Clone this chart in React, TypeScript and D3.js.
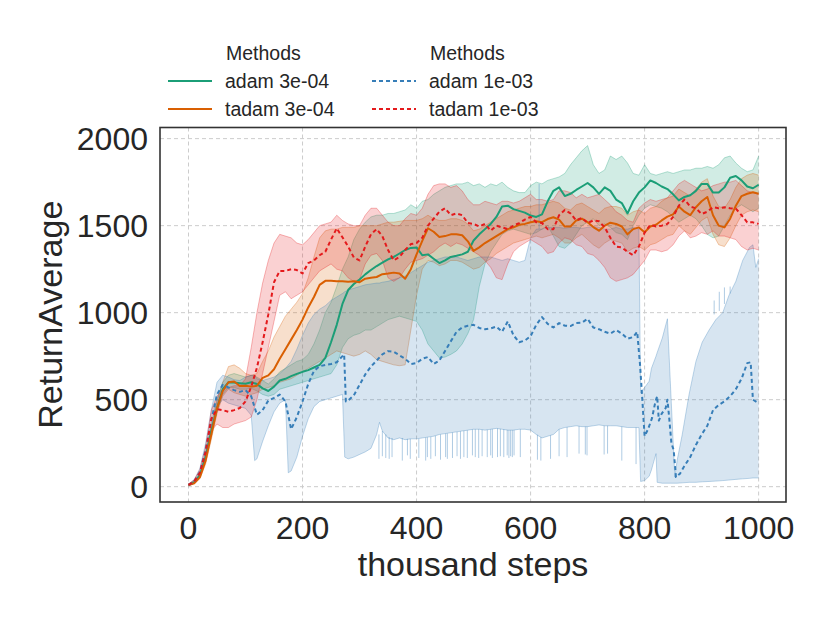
import React, { useEffect, useRef } from 'react';
import * as d3 from 'd3';

// shared x grid (thousand steps) for the 3e-04 runs and tadam 1e-03
const steps = [
  0, 10, 20, 30, 40, 50, 60, 70, 80, 90,
  100, 110, 120, 130, 140, 150, 160, 170, 180, 190,
  200, 210, 220, 230, 240, 250, 260, 270, 280, 290,
  300, 310, 320, 330, 340, 350, 360, 370, 380, 390,
  400, 410, 420, 430, 440, 450, 460, 470, 480, 490,
  500, 510, 520, 530, 540, 550, 560, 570, 580, 590,
  600, 610, 620, 630, 640, 650, 660, 670, 680, 690,
  700, 710, 720, 730, 740, 750, 760, 770, 780, 790,
  800, 810, 820, 830, 840, 850, 860, 870, 880, 890,
  900, 910, 920, 930, 940, 950, 960, 970, 980, 990,
  1000,
];

// adam 3e-04
const greenMean = [
  10, 25, 65, 170, 320, 450, 560, 600, 598, 595,
  592, 600, 590, 565, 550, 575, 610, 620, 635, 648,
  660, 670, 685, 700, 740, 830, 930, 1050, 1130, 1165,
  1190, 1220, 1245, 1268, 1288, 1306, 1320, 1340, 1360, 1372,
  1375, 1330, 1335, 1310, 1285, 1300, 1320, 1327, 1335, 1350,
  1415, 1450, 1480, 1510, 1550, 1610, 1615, 1595, 1585, 1575,
  1558, 1550, 1565, 1640, 1700, 1720, 1670, 1683, 1705, 1725,
  1745, 1720, 1683, 1720, 1700, 1650, 1630, 1570, 1640, 1690,
  1720, 1760, 1745, 1725, 1710, 1680, 1645, 1665, 1675, 1700,
  1740, 1740, 1690, 1690, 1720, 1775, 1785, 1760, 1725, 1715,
  1735,
];
const greenLo = [
  5, 20, 55, 150, 290, 430, 530, 570, 570, 560,
  560, 565, 550, 530, 520, 530, 560, 570, 580, 590,
  600, 610, 620, 630, 640, 650, 700, 800, 850, 870,
  880, 900, 900, 920, 940, 960, 970, 980, 970, 960,
  950, 900, 820, 780, 740, 745, 760, 780, 820, 880,
  960, 1150, 1280, 1350, 1400, 1450, 1470, 1480, 1470, 1460,
  1450, 1460, 1480, 1500, 1440, 1380, 1370, 1400, 1450, 1500,
  1520, 1540, 1500, 1510, 1490, 1460, 1450, 1420, 1500, 1560,
  1600, 1620, 1610, 1600, 1580, 1550, 1520, 1540, 1560, 1540,
  1500, 1450, 1430, 1440, 1500, 1560, 1600, 1620, 1600, 1580,
  1600,
];
const greenHi = [
  15, 35, 80, 200, 360, 500, 600, 640, 650, 640,
  630, 640, 630, 610, 590, 620, 660, 680, 700, 720,
  730, 760, 820, 900, 1000, 1060, 1150, 1250, 1320, 1420,
  1480, 1520, 1550, 1560, 1560, 1570, 1570, 1580, 1590, 1620,
  1600, 1640, 1650, 1680, 1700, 1720, 1730, 1740, 1740, 1750,
  1730, 1740, 1720, 1740, 1730, 1750, 1720, 1700, 1690, 1690,
  1730, 1750, 1740, 1760, 1770, 1780, 1800, 1850, 1890, 1930,
  1960, 1850, 1800, 1820, 1900, 1880, 1900, 1860, 1800, 1790,
  1850, 1800, 1790, 1800, 1810, 1800, 1810, 1820, 1820, 1830,
  1830, 1840, 1830, 1850, 1890, 1900, 1860, 1830, 1810, 1820,
  1900,
];

// tadam 3e-04
const orangeMean = [
  10, 20, 55, 150, 300, 450, 550, 600, 605, 578,
  580, 575, 580, 625, 640, 675, 735, 790, 845, 900,
  960, 1030, 1090, 1160, 1183, 1183, 1180, 1180, 1178, 1180,
  1175, 1195, 1200, 1205, 1221, 1225, 1230, 1225, 1195, 1250,
  1335, 1413, 1485, 1465, 1435, 1440, 1450, 1450, 1445, 1410,
  1355, 1375, 1400, 1420, 1440, 1460, 1480, 1490, 1505, 1510,
  1520, 1525, 1520, 1538, 1548, 1535, 1495, 1495, 1530, 1540,
  1520, 1492, 1471, 1500, 1517, 1510, 1495, 1450, 1480, 1490,
  1462, 1495, 1505, 1530, 1552, 1565, 1610, 1580, 1560, 1606,
  1640, 1665, 1560, 1500, 1490, 1540, 1615, 1670, 1683, 1692,
  1683,
];
const orangeLo = [
  5, 18, 45, 130, 270, 420, 520, 560, 540, 530,
  520, 530, 540, 560, 570, 580, 600, 610, 620, 640,
  660, 680, 700, 720, 740, 760, 780, 770, 760, 750,
  760, 780, 760, 730, 720, 710, 700, 695, 700, 900,
  1100, 1250, 1300, 1290, 1270, 1280, 1300, 1300, 1290, 1270,
  1250, 1260, 1290, 1310, 1340, 1360, 1380, 1400, 1410, 1420,
  1430, 1440, 1430, 1440, 1450, 1430, 1400, 1400, 1430, 1450,
  1420, 1390, 1370, 1400, 1420, 1410, 1400, 1350, 1370, 1380,
  1360, 1390, 1400, 1420, 1440, 1450, 1500, 1470, 1450, 1490,
  1530, 1550, 1450, 1390, 1380, 1430, 1500, 1560, 1580, 1590,
  1580,
];
const orangeHi = [
  15, 30, 70, 180, 340, 490, 600, 690, 700, 680,
  650, 640, 650, 720, 780, 860, 920, 980, 1020, 1060,
  1110, 1200, 1320, 1430, 1470, 1480, 1480, 1490, 1490, 1490,
  1500, 1500, 1500, 1500, 1510, 1520, 1520, 1525, 1530, 1530,
  1530, 1540, 1560, 1540, 1530, 1530, 1540, 1540, 1530, 1510,
  1470, 1480, 1500, 1520, 1540, 1560, 1580, 1590, 1600, 1610,
  1610, 1620, 1620, 1630, 1640, 1630, 1600, 1590, 1620, 1630,
  1610, 1590, 1570, 1600, 1610, 1610, 1600, 1560, 1580, 1590,
  1570, 1600, 1610, 1640, 1660, 1670, 1710, 1690, 1670, 1710,
  1750, 1770, 1670, 1610, 1600, 1650, 1720, 1770, 1790, 1800,
  1790,
];

// tadam 1e-03
const redMean = [
  10, 30, 80, 200, 390, 445, 440, 430, 440, 452,
  490, 575, 683, 830, 990, 1175, 1240, 1240, 1250, 1245,
  1225, 1285, 1300, 1330, 1350, 1420, 1485, 1433, 1380, 1317,
  1300, 1380, 1450, 1480, 1440, 1360, 1300, 1320, 1360, 1394,
  1400, 1430, 1500, 1540, 1580, 1600, 1560, 1570, 1560, 1515,
  1510, 1495, 1510, 1471, 1500, 1490, 1480, 1500, 1515, 1535,
  1550, 1520, 1515, 1480, 1480, 1560, 1590, 1570, 1530, 1545,
  1515, 1530, 1525, 1490, 1430, 1380, 1375, 1350, 1330, 1380,
  1460, 1505, 1495, 1500, 1510, 1550, 1615, 1650, 1610, 1600,
  1567, 1580, 1606, 1600, 1606, 1600, 1598, 1560, 1519, 1519,
  1510,
];
const redLo = [
  5, 20, 60, 170, 320, 360, 340, 340, 360, 370,
  380, 400, 500, 650, 800, 950, 1100, 1120, 1080, 1100,
  1120, 1160, 1200, 1240, 1260, 1280, 1250, 1240, 1200, 1180,
  1190, 1280, 1330, 1340, 1300, 1200, 1180, 1200, 1250, 1290,
  1300, 1310, 1330, 1350, 1380, 1400, 1380, 1400, 1390, 1370,
  1350, 1330, 1300, 1260, 1200, 1190, 1280, 1350, 1380, 1400,
  1420, 1400, 1380, 1340, 1350, 1400, 1430, 1420, 1390, 1380,
  1340, 1330, 1300, 1260, 1200, 1180, 1190, 1200, 1220, 1260,
  1300, 1360, 1360, 1350, 1360, 1390, 1440, 1470, 1430, 1440,
  1460, 1450, 1470, 1440, 1440, 1430, 1420, 1380, 1360, 1370,
  1360,
];
const redHi = [
  15, 40, 100, 230, 440, 520, 560, 570, 580, 580,
  620, 800, 1000, 1170, 1300, 1400, 1450, 1440, 1430, 1400,
  1390, 1420, 1460, 1500, 1510, 1520, 1560, 1530, 1510, 1500,
  1500, 1560, 1600, 1600, 1560, 1520, 1500, 1500, 1540, 1570,
  1560, 1600, 1680, 1730, 1740, 1740, 1720, 1730, 1700, 1650,
  1620, 1620, 1640, 1630, 1620, 1640, 1640, 1630, 1640, 1660,
  1680, 1650, 1650, 1640, 1650, 1700, 1700, 1690, 1660, 1680,
  1660, 1670, 1680, 1650, 1620, 1580, 1560, 1530, 1520, 1600,
  1630, 1650, 1640, 1650, 1660, 1700, 1740, 1760, 1740, 1720,
  1700, 1710, 1730, 1740, 1750, 1750, 1760, 1730, 1700, 1690,
  1680,
];

// adam 1e-03 has sharp collapses, so it keeps its own step positions
const blueMean: [number, number][] = [
  [0, 10], [10, 30], [20, 85], [30, 210], [40, 380], [50, 530], [60, 585], [70, 570], [80, 555], [90, 545],
  [100, 555], [110, 520], [120, 413], [130, 440], [140, 495], [150, 510], [160, 529], [170, 490], [180, 330], [190, 400],
  [200, 490], [210, 590], [220, 665], [230, 692], [240, 700], [250, 705], [260, 715], [270, 750], [273, 760], [276, 490],
  [280, 495], [290, 525], [300, 585], [310, 645], [320, 690], [330, 725], [340, 760], [350, 779], [360, 775], [370, 755],
  [380, 735], [390, 705], [400, 710], [410, 735], [420, 745], [430, 705], [440, 725], [450, 780], [460, 835], [470, 890],
  [480, 915], [490, 925], [500, 930], [510, 912], [520, 905], [530, 910], [540, 920], [550, 890], [560, 950], [570, 870],
  [580, 830], [590, 840], [600, 865], [610, 930], [620, 975], [630, 935], [640, 915], [650, 940], [660, 925], [670, 923],
  [680, 940], [690, 942], [700, 965], [710, 915], [720, 905], [730, 890], [740, 880], [750, 900], [760, 880], [770, 850],
  [780, 860], [787, 890], [792, 700], [796, 500], [800, 290], [806, 330], [813, 394], [819, 490], [822, 520], [825, 380],
  [830, 420], [837, 452], [840, 500], [843, 400], [847, 250], [851, 210], [855, 55], [862, 75], [870, 120], [880, 170],
  [890, 240], [900, 300], [910, 350], [920, 440], [930, 470], [940, 490], [950, 520], [960, 560], [970, 620], [980, 710],
  [986, 715], [990, 500], [1000, 480],
];
const blueBand: [number, number, number][] = [
  [0, 5, 15], [10, 20, 40], [20, 65, 105], [30, 170, 250], [40, 320, 440], [50, 460, 600], [60, 500, 640],
  [70, 480, 630], [80, 470, 615], [90, 460, 610], [100, 450, 630], [110, 410, 640], [116, 150, 640], [120, 160, 620],
  [130, 260, 610], [140, 350, 620], [150, 430, 630], [160, 480, 650], [170, 500, 680], [175, 80, 700], [180, 90, 720],
  [190, 170, 790], [200, 290, 870], [210, 390, 940], [220, 460, 990], [230, 490, 1020], [240, 500, 1040], [250, 510, 1070],
  [260, 520, 1090], [270, 530, 1110], [274, 170, 1120], [280, 160, 1130], [290, 170, 1140], [300, 185, 1150], [310, 200, 1160],
  [320, 220, 1165], [330, 300, 1170], [335, 370, 1170], [340, 320, 1175], [350, 280, 1180], [360, 270, 1190], [370, 280, 1200],
  [380, 270, 1210], [390, 275, 1230], [400, 275, 1250], [410, 280, 1270], [420, 285, 1290], [430, 290, 1300], [440, 300, 1310],
  [450, 305, 1320], [460, 310, 1320], [470, 315, 1320], [480, 320, 1310], [490, 325, 1300], [500, 330, 1310], [510, 330, 1320],
  [520, 325, 1320], [530, 330, 1320], [540, 335, 1310], [550, 330, 1300], [560, 325, 1310], [570, 325, 1300], [580, 330, 1290],
  [590, 330, 1300], [600, 325, 1430], [610, 300, 1480], [620, 280, 1480], [630, 290, 1490], [640, 300, 1490], [650, 330, 1490],
  [660, 340, 1485], [670, 345, 1490], [680, 350, 1490], [690, 345, 1485], [700, 345, 1490], [710, 350, 1495], [720, 355, 1490],
  [730, 350, 1480], [740, 350, 1480], [750, 350, 1490], [760, 345, 1480], [770, 340, 1480], [780, 340, 1490], [790, 340, 1480],
  [793, 30, 540], [800, 35, 570], [808, 60, 606], [812, 96, 680], [820, 190, 750], [822, 25, 770], [831, 20, 854],
  [840, 20, 965], [845, 20, 610], [853, 20, 55], [857, 20, 150], [866, 22, 300], [878, 25, 530], [890, 25, 720],
  [901, 28, 830], [913, 30, 900], [925, 32, 960], [937, 35, 1000], [948, 38, 1100], [960, 42, 1180], [972, 45, 1300],
  [984, 48, 1375], [990, 50, 1390], [995, 50, 1260], [1000, 50, 1310],
];
// thin outliers on the adam 1e-03 band edges: [step, from, to]
const blueSpikes: [number, number, number][] = [
  [334, 300, 160], [340, 320, 175], [346, 300, 165], [352, 285, 160], [357, 280, 170], [375, 280, 150],
  [384, 275, 180], [389, 275, 160], [404, 275, 165], [416, 282, 150], [419, 284, 170], [425, 286, 160],
  [433, 292, 175], [442, 300, 155], [451, 305, 170], [454, 306, 160], [463, 311, 165], [471, 315, 175],
  [477, 318, 160], [483, 321, 170], [489, 324, 165], [498, 329, 180], [503, 330, 170], [509, 330, 165],
  [515, 328, 175], [524, 327, 170], [530, 330, 180], [533, 331, 165], [542, 334, 170], [547, 332, 175],
  [553, 330, 170], [559, 326, 180], [562, 325, 165], [565, 325, 175], [568, 325, 170], [571, 325, 180],
  [582, 330, 170], [612, 298, 155], [618, 285, 150], [635, 295, 160], [650, 330, 175], [664, 342, 170],
  [685, 348, 190], [696, 345, 185], [699, 345, 180], [729, 350, 185], [735, 350, 190], [760, 345, 150],
  [785, 340, 130],
  [615, 1480, 1740], [922, 990, 1070], [931, 1010, 1120], [940, 1050, 1145], [950, 1110, 1150],
];

const xTicks = [0, 200, 400, 600, 800, 1000];
const yTicks = [0, 500, 1000, 1500, 2000];

const FONT = '"Liberation Sans", Arial, Helvetica, sans-serif';
const INK = '#262626';

type Pt = [number, number];
type Band = [number, number, number];
interface Series {
  label: string;
  color: string;
  dashed: boolean;
  line: Pt[];
  band: Band[];
}

const zipLine = (xs: number[], ys: number[]): Pt[] => xs.map((s, i) => [s, ys[i]]);
const zipBand = (xs: number[], lo: number[], hi: number[]): Band[] => xs.map((s, i) => [s, lo[i], hi[i]]);

const green: Series = { label: 'adam 3e-04', color: '#1b9e77', dashed: false, line: zipLine(steps, greenMean), band: zipBand(steps, greenLo, greenHi) };
const orange: Series = { label: 'tadam 3e-04', color: '#d95f02', dashed: false, line: zipLine(steps, orangeMean), band: zipBand(steps, orangeLo, orangeHi) };
const blue: Series = { label: 'adam 1e-03', color: '#377eb8', dashed: true, line: blueMean, band: blueBand };
const red: Series = { label: 'tadam 1e-03', color: '#e41a1c', dashed: true, line: zipLine(steps, redMean), band: zipBand(steps, redLo, redHi) };

const allSeries = [green, orange, blue, red];
const legendCols = [[green, orange], [blue, red]];

export default function App() {
  const svgRef = useRef<SVGSVGElement>(null);

  useEffect(() => {
    if (!svgRef.current) return;
    const svg = d3.select(svgRef.current);
    svg.selectAll('*').remove();

    const left = 160, right = 786, top = 127.5, bottom = 502;
    const x = d3.scaleLinear().domain([-50, 1048]).range([left, right]);
    const y = d3.scaleLinear().domain([-88, 2064]).range([bottom, top]);

    svg.append('defs').append('clipPath').attr('id', 'plot-clip')
      .append('rect').attr('x', left).attr('y', top).attr('width', right - left).attr('height', bottom - top);

    // grid
    const grid = svg.append('g').attr('stroke', '#cccccc').attr('stroke-width', 1).attr('stroke-dasharray', '4,3');
    grid.selectAll('line.gx').data(xTicks).join('line')
      .attr('x1', d => x(d)).attr('x2', d => x(d)).attr('y1', top).attr('y2', bottom);
    grid.selectAll('line.gy').data(yTicks).join('line')
      .attr('y1', d => y(d)).attr('y2', d => y(d)).attr('x1', left).attr('x2', right);

    const plot = svg.append('g').attr('clip-path', 'url(#plot-clip)');

    const area = d3.area<Band>().x(d => x(d[0])).y0(d => y(d[1])).y1(d => y(d[2]));
    const edgeLo = d3.line<Band>().x(d => x(d[0])).y(d => y(d[1]));
    const edgeHi = d3.line<Band>().x(d => x(d[0])).y(d => y(d[2]));
    const meanLine = d3.line<Pt>().x(d => x(d[0])).y(d => y(d[1]));

    // bands first, all under the lines
    allSeries.forEach(s => {
      plot.append('path').attr('d', area(s.band)).attr('fill', s.color).attr('fill-opacity', 0.2).attr('stroke', 'none');
      [edgeLo(s.band), edgeHi(s.band)].forEach(d => {
        plot.append('path').attr('d', d).attr('fill', 'none').attr('stroke', s.color)
          .attr('stroke-opacity', 0.35).attr('stroke-width', 0.9);
      });
    });

    plot.append('g').selectAll('line').data(blueSpikes).join('line')
      .attr('x1', d => x(d[0])).attr('x2', d => x(d[0]))
      .attr('y1', d => y(d[1])).attr('y2', d => y(d[2]))
      .attr('stroke', blue.color).attr('stroke-opacity', 0.4).attr('stroke-width', 1);

    allSeries.forEach(s => {
      plot.append('path').attr('d', meanLine(s.line)).attr('fill', 'none')
        .attr('stroke', s.color).attr('stroke-width', 2)
        .attr('stroke-dasharray', s.dashed ? '4,3' : null)
        .attr('stroke-linejoin', 'round');
    });

    // frame
    svg.append('rect').attr('x', left).attr('y', top).attr('width', right - left).attr('height', bottom - top)
      .attr('fill', 'none').attr('stroke', '#333333').attr('stroke-width', 1.6);

    // tick labels
    svg.append('g').selectAll('text').data(xTicks).join('text')
      .attr('x', d => x(d)).attr('y', 539).attr('text-anchor', 'middle')
      .attr('font-family', FONT).attr('font-size', 32).attr('fill', INK).text(d => d);
    svg.append('g').selectAll('text').data(yTicks).join('text')
      .attr('x', 148).attr('y', d => y(d) + 11.5).attr('text-anchor', 'end')
      .attr('font-family', FONT).attr('font-size', 32).attr('fill', INK).text(d => d);

    // axis labels
    svg.append('text').attr('x', (left + right) / 2).attr('y', 576).attr('text-anchor', 'middle')
      .attr('font-family', FONT).attr('font-size', 34).attr('fill', INK).text('thousand steps');
    svg.append('text').attr('transform', `translate(62,${(top + bottom) / 2}) rotate(-90)`).attr('text-anchor', 'middle')
      .attr('font-family', FONT).attr('font-size', 34).attr('fill', INK).text('ReturnAverage');

    // two legends, each with its own title
    const colX = [168, 372];
    legendCols.forEach((col, ci) => {
      const lg = svg.append('g').attr('font-family', FONT).attr('font-size', 19.5).attr('fill', INK);
      lg.append('text').attr('x', colX[ci] + 58).attr('y', 60).text('Methods');
      col.forEach((s, ri) => {
        const ly = 81 + ri * 28;
        lg.append('line').attr('x1', colX[ci]).attr('x2', colX[ci] + 44).attr('y1', ly).attr('y2', ly)
          .attr('stroke', s.color).attr('stroke-width', 2)
          .attr('stroke-dasharray', s.dashed ? '4,3' : null);
        lg.append('text').attr('x', colX[ci] + 57).attr('y', ly + 7).text(s.label);
      });
    });
  }, []);

  return (
    <svg
      ref={svgRef}
      width={830}
      height={623}
      style={{ position: 'absolute', left: 0, top: 0, background: '#ffffff' }}
    />
  );
}
